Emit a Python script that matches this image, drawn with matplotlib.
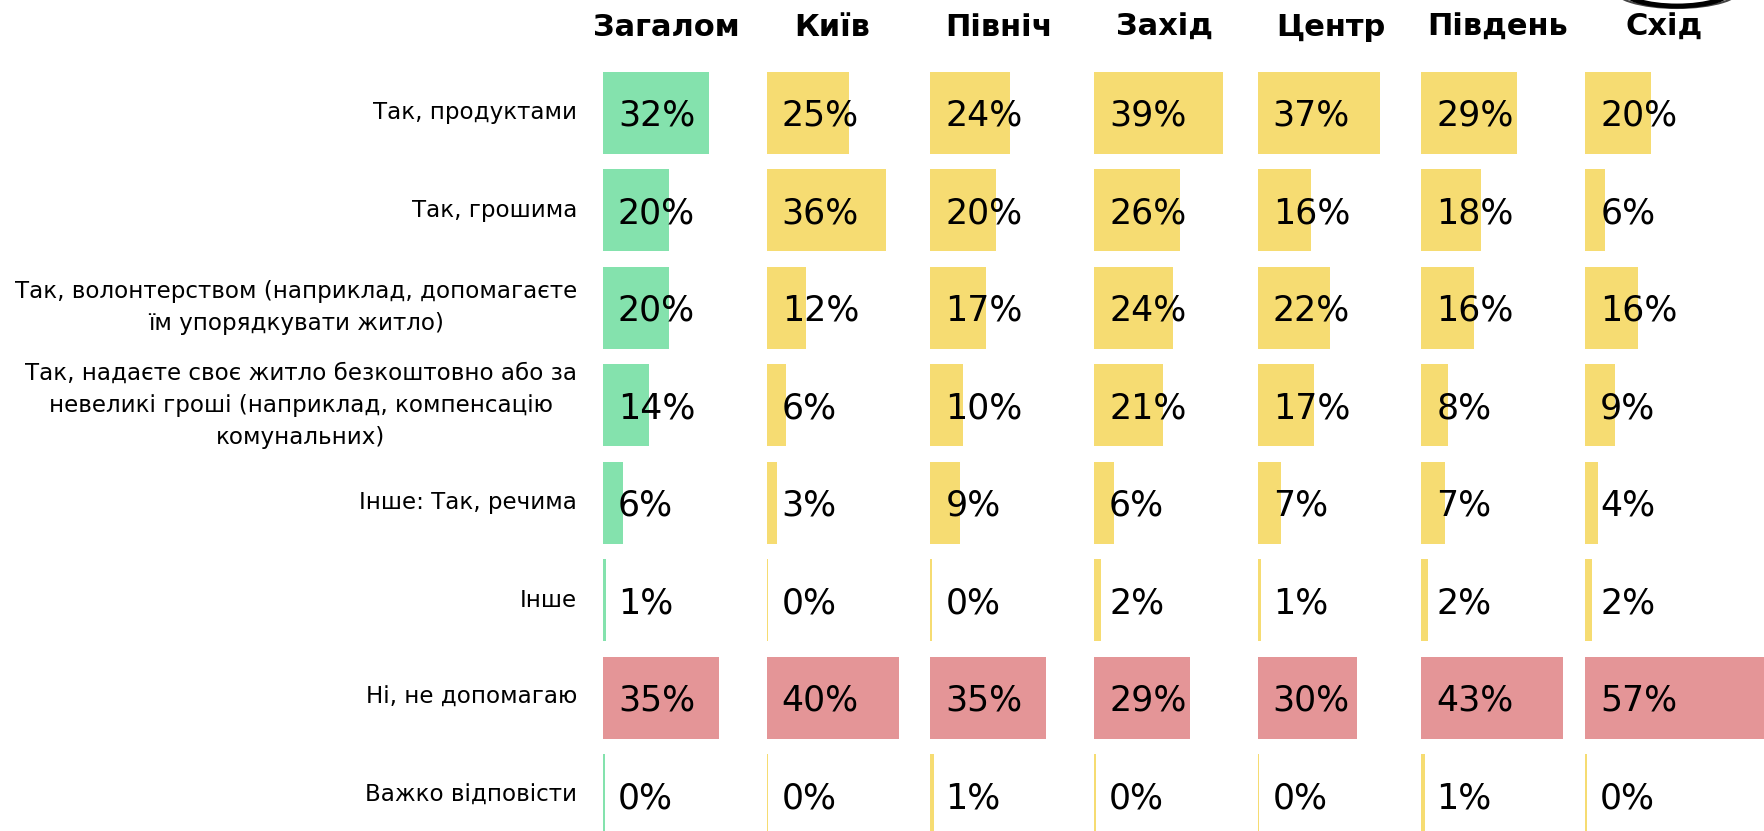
import matplotlib.pyplot as plt
from matplotlib import patches

W, H = 1765, 831

regions = ["Загалом", "Київ", "Північ", "Захід", "Центр", "Південь", "Схід"]
answers = [
    "Так, продуктами",
    "Так, грошима",
    "Так, волонтерством (наприклад, допомагаєте\nїм упорядкувати житло)",
    "Так, надаєте своє житло безкоштовно або за\nневеликі гроші (наприклад, компенсацію\nкомунальних)",
    "Інше: Так, речима",
    "Інше",
    "Ні, не допомагаю",
    "Важко відповісти",
]
# values per region, in the order of answers
zagalom = [32, 20, 20, 14, 6, 1, 35, 0]
kyiv = [25, 36, 12, 6, 3, 0, 40, 0]
pivnich = [24, 20, 17, 10, 9, 0, 35, 1]
zakhid = [39, 26, 24, 21, 6, 2, 29, 0]
tsentr = [37, 16, 22, 17, 7, 1, 30, 0]
pivden = [29, 18, 16, 8, 7, 2, 43, 1]
skhid = [20, 6, 16, 9, 4, 2, 57, 0]
values = [zagalom, kyiv, pivnich, zakhid, tsentr, pivden, skhid]

GREEN = "#84e2ad"
YELLOW = "#f6dc72"
RED = "#e49597"

plt.rcParams['font.family'] = ['DejaVu Sans']

fig = plt.figure(figsize=(W / 100, H / 100), dpi=100)

col_left = 603
col_step = 163.7
px_per_pct = 3.3
row_top = 64
row_step = 97.5
n_rows = len(answers)
ax_h = row_step * n_rows
head_x0 = 666
head_step = 166.3

for i, (name, vals) in enumerate(zip(regions, values)):
    left = col_left + i * col_step
    ax = fig.add_axes([left / W, 1 - (row_top + ax_h) / H, col_step / W, ax_h / H])
    ax.set_xlim(0, col_step / px_per_pct)
    ax.set_ylim(n_rows - 0.5, -0.5)
    ax.axis('off')
    colors = []
    for r in range(n_rows):
        if r == 6:
            colors.append(RED)
        elif i == 0:
            colors.append(GREEN)
        else:
            colors.append(YELLOW)
    widths = [max(v, 0.5) for v in vals]
    ax.barh(range(n_rows), widths, height=0.84, color=colors, clip_on=False)
    for r, v in enumerate(vals):
        ax.text(15 / px_per_pct, r + 0.03, f"{v}%", va='center', ha='left',
                fontsize=25, color='black')
    fig.text((head_x0 + i * head_step) / W, 1 - 27 / H, name, ha='center',
             va='center', fontsize=22, fontweight='bold')

for r, label in enumerate(answers):
    y = row_top + row_step * (r + 0.5)
    fig.text(577 / W, 1 - y / H, label, ha='right', va='center',
             multialignment='center', fontsize=16.6, linespacing=1.5)

# clipped logo at the top right
fig.add_artist(patches.Ellipse((1677, H + 12), 130, 40, fill=False,
                               edgecolor='#444444', lw=1.5, transform=None))
fig.add_artist(patches.Ellipse((1677, H + 11), 110, 34, fill=False,
                               edgecolor='black', lw=3.5, transform=None))

fig.savefig("out.png", dpi=100)
